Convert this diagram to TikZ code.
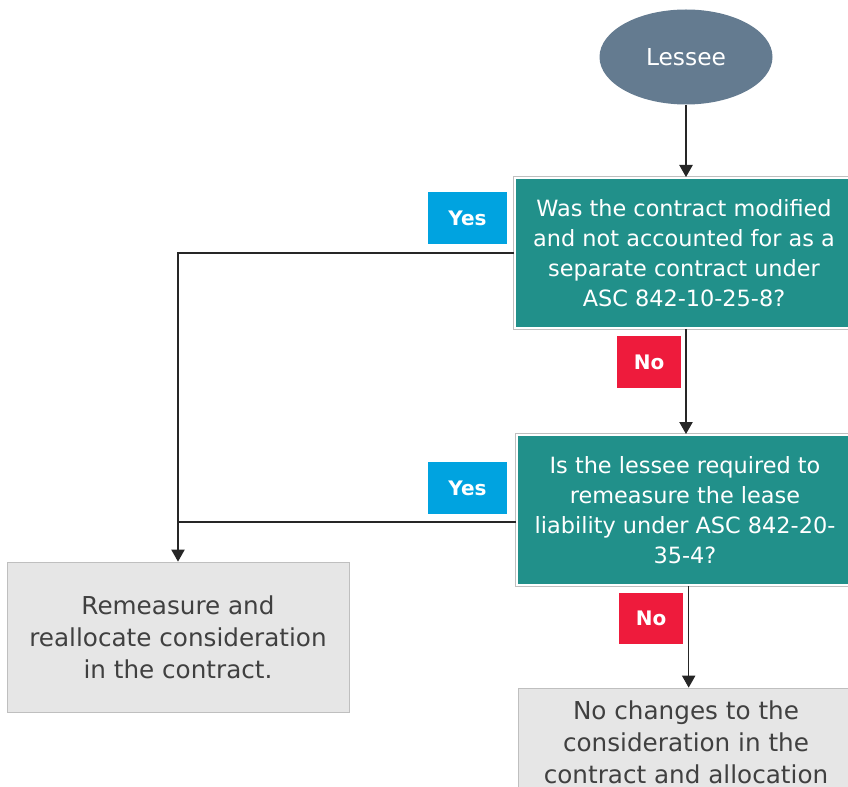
\documentclass[tikz,border=0pt]{standalone}
\usepackage{fontspec}
\setmainfont{DejaVu Sans}
\usetikzlibrary{arrows.meta,shapes.geometric}
\definecolor{slate}{HTML}{647B90}
\definecolor{qteal}{HTML}{21908A}
\definecolor{yesblue}{HTML}{00A3E0}
\definecolor{nored}{HTML}{EE1B3C}
\definecolor{boxgray}{HTML}{E6E6E6}
\definecolor{boxedge}{HTML}{BFBFBF}
\definecolor{textgray}{HTML}{404040}
\tikzset{
  question/.style={fill=qteal, draw=white, line width=1.5pt,
    preaction={draw=boxedge, line width=2.6pt},
    text=white, align=center, inner sep=0pt,
    font=\fontsize{16.8}{22.5}\selectfont},
  outcome/.style={fill=boxgray, draw=boxedge, line width=0.6pt,
    text=textgray, align=center, inner sep=0pt,
    font=\fontsize{18.5}{24}\selectfont},
  yestag/.style={fill=yesblue, text=white, inner sep=0pt,
    minimum width=59.25pt, minimum height=39pt,
    font=\fontsize{15}{18}\selectfont\bfseries},
  notag/.style={fill=nored, text=white, inner sep=0pt,
    minimum width=48pt, minimum height=38.25pt,
    font=\fontsize{15}{18}\selectfont\bfseries},
  flow/.style={draw=black!85, line width=0.9pt},
}
\begin{document}
\begin{tikzpicture}[x=0.75pt, y=-0.75pt]
  \useasboundingbox (0, 0) rectangle (848, 787) ;
  \clip (0, 0) rectangle (848, 787) ;
%--- Start
  \node[ellipse, fill=slate, text=white, inner sep=0pt,
    minimum width=129.75pt, minimum height=71.25pt,
    font=\fontsize{17.5}{20}\selectfont] (lessee) at (686, 57) {Lessee} ;
%--- Questions
  \node[question, minimum width=253.5pt, minimum height=112.5pt] (modified) at (684, 253)
    {Was the contract modified\\and not accounted for as a\\separate contract under\\ASC 842-10-25-8?} ;
  \node[question, minimum width=252pt, minimum height=112.5pt] (remeasured) at (685, 510)
    {Is the lessee required to\\remeasure the lease\\liability under ASC 842-20-\\35-4?} ;
%--- Outcomes
  \node[outcome, minimum width=256.5pt, minimum height=112.5pt] (realloc) at (178, 637)
    {Remeasure and\\reallocate consideration\\in the contract.} ;
  \node[outcome, minimum width=251.25pt, minimum height=81pt] (nochange) at (686, 742)
    {No changes to the\\consideration in the\\contract and allocation} ;
%--- Tags
  \node[yestag] (yes1) at (467.5, 218) {Yes} ;
  \node[yestag] (yes2) at (467.5, 488) {Yes} ;
  \node[notag] (no1) at (649, 362) {No} ;
  \node[notag] (no2) at (651, 618.5) {No} ;
%--- Connectors
  \draw[flow, -{Triangle[length=9pt,width=10pt]}] (lessee.south) -- (lessee.south |- modified.north) ;
  \draw[flow, -{Triangle[length=9pt,width=10pt]}] (lessee.south |- modified.south) -- (lessee.south |- remeasured.north) ;
  \draw[flow, -{Triangle[length=9pt,width=10pt]}] ([xshift=2pt]lessee.south |- remeasured.south) -- ([xshift=2pt]lessee.south |- nochange.north) ;
  \draw[flow, -{Triangle[length=9pt,width=10pt]}] (modified.west) -- (modified.west -| realloc.north) -- (realloc.north) ;
  \draw[flow] ([yshift=-9pt]remeasured.west) -- ([yshift=-9pt]remeasured.west -| realloc.north) ;
\end{tikzpicture}
\end{document}
